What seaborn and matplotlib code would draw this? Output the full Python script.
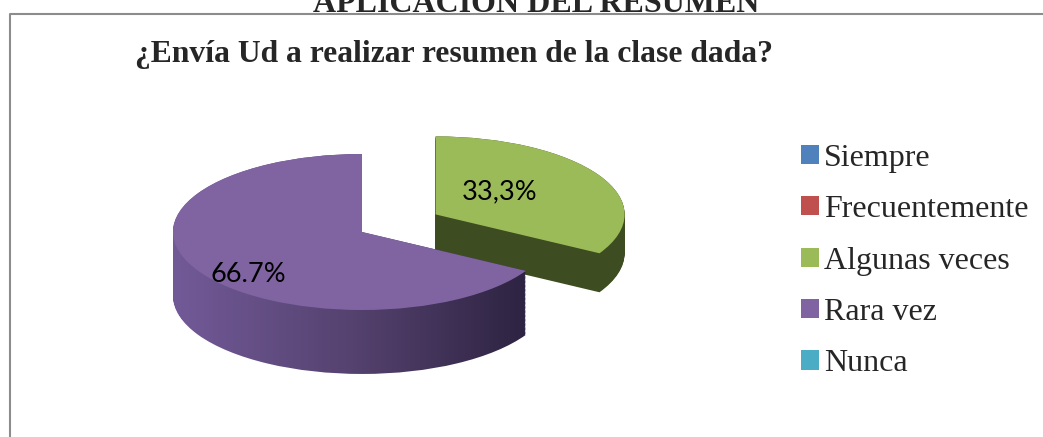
import numpy as np
import matplotlib
matplotlib.use('Agg')
import matplotlib.pyplot as plt
import seaborn as sns
from matplotlib.path import Path
from matplotlib.lines import Line2D
from matplotlib.colors import LinearSegmentedColormap

categorias = ['Siempre', 'Frecuentemente', 'Algunas veces', 'Rara vez', 'Nunca']
porcentajes = [0, 0, 33.3, 66.7, 0]
etiquetas = ['', '', '33,3%', '66.7%', '']
colores = ['#4F81BD', '#C0504D', '#9BBB59', '#8064A2', '#4BACC6']
colores_lado = ['#2F4D71', '#73302E', '#3E4D21', '#4A3A63', '#2D6777']
separacion = [0, 0, 0.45, 0, 0]
profundidad = [0.8, 0.8, 0.5, 0.82, 0.8]
pos_etiquetas = [None, None, (0.73, 0.51), (-0.60, -0.55)]

sns.set_style('white')
plt.rcParams['font.family'] = ['Liberation Serif', 'DejaVu Serif']

W, H = 1043, 437
fig = plt.figure(figsize=(W / 100, H / 100), dpi=100)
ax = fig.add_axes([0, 0, 1, 1])

cx, cy, rx, ry = 362, 205, 189, 78   # centre / radii in pixels
capas = np.linspace(0, 1, 50)

# side walls: stacked copies of the pie, shifted downwards
paths_lila = []
for k in capas[::-1]:
    wedges, _ = ax.pie(porcentajes, explode=separacion, colors=colores_lado,
                       startangle=90, counterclock=False, center=(0, 0),
                       wedgeprops=dict(linewidth=0))
    for i, w in enumerate(wedges):
        d = k * profundidad[i]
        w.set_center((w.center[0], w.center[1] - d))
        w.set_zorder(1 if i != 3 else 3)
        if i == 3:
            w.set_visible(False)
            paths_lila.append(w.get_path())

# gradient on the purple wall
clip = Path.make_compound_path(*paths_lila)
cmap = LinearSegmentedColormap.from_list('lado', ['#725A98', '#55426F', '#2C2240'])
grad = np.linspace(0, 1, 256).reshape(1, -1)
img = ax.imshow(grad, cmap=cmap, extent=(-1.0, 0.9, -1.9, 1.1), aspect='auto',
                zorder=3.5, interpolation='bicubic')
img.set_clip_path(clip, ax.transData)

# top faces
tops, _ = ax.pie(porcentajes, explode=separacion, colors=colores,
                 startangle=90, counterclock=False,
                 wedgeprops=dict(linewidth=0))
for i, w in enumerate(tops):
    w.set_zorder(2 if i != 3 else 4)

for pos, txt in zip(pos_etiquetas, etiquetas):
    if pos is not None:
        ax.text(pos[0], pos[1], txt, ha='center', va='center', fontsize=19.5,
                family='Lato', color='#000000', zorder=6)

ax.set_aspect('auto')
ax.set_xlim(-cx / rx, (W - cx) / rx)
ax.set_ylim(-cy / ry, (H - cy) / ry)
ax.axis('off')

# legend
leg = fig.legend(tops, categorias, loc='center left',
                 bbox_to_anchor=(801 / W, (H - 261) / H), frameon=False,
                 prop={'family': 'Liberation Serif', 'size': 23},
                 handlelength=0.55, handleheight=0.55, handletextpad=0.18,
                 labelspacing=0.7, borderpad=0, borderaxespad=0)

# chart border (only top and left visible)
fig.add_artist(Line2D([9.5 / W, 9.5 / W, 1], [0, (H - 14) / H, (H - 14) / H],
                      transform=fig.transFigure, color='#8C8C8C', lw=1.5))

fig.text(135 / W, (H - 62) / H, '¿Envía Ud a realizar resumen de la clase dada?',
         fontsize=22.8, fontweight='bold', va='baseline', ha='left')
fig.text(536 / W, (H - 12) / H, 'APLICACIÓN DEL RESUMEN',
         fontsize=23, fontweight='bold', va='baseline', ha='center')

fig.savefig('out.png', dpi=100)
